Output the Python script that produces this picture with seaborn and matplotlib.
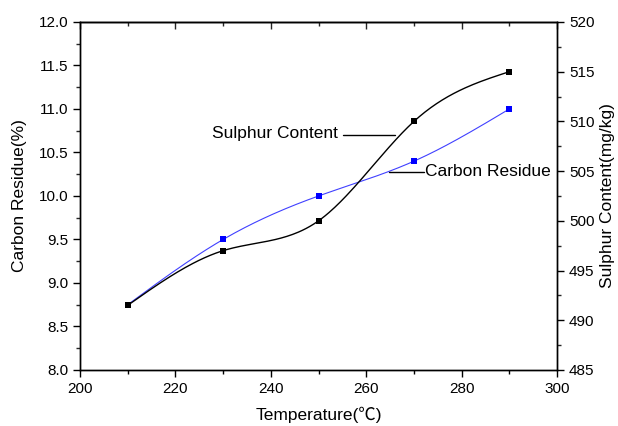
import numpy as np
import pandas as pd
import matplotlib
matplotlib.use("Agg")
import matplotlib.pyplot as plt
from matplotlib.ticker import MultipleLocator
import seaborn as sns

temperature = [210, 230, 250, 270, 290]
carbon_residue = [8.75, 9.50, 10.00, 10.40, 11.00]
sulphur_content = [491.5, 497.0, 500.0, 510.0, 515.0]

sns.set_theme(style="ticks")
plt.rcParams['font.family'] = ['Liberation Sans', 'Noto Sans CJK SC', 'DejaVu Sans']


def natural_spline(x, y, n=200):
    x = np.asarray(x, float)
    y = np.asarray(y, float)
    k = len(x)
    h = np.diff(x)
    A = np.zeros((k, k))
    b = np.zeros(k)
    A[0, 0] = 1
    A[-1, -1] = 1
    for i in range(1, k - 1):
        A[i, i - 1] = h[i - 1]
        A[i, i] = 2 * (h[i - 1] + h[i])
        A[i, i + 1] = h[i]
        b[i] = 6 * ((y[i + 1] - y[i]) / h[i] - (y[i] - y[i - 1]) / h[i - 1])
    M = np.linalg.solve(A, b)
    xs = np.linspace(x[0], x[-1], n)
    idx = np.clip(np.searchsorted(x, xs) - 1, 0, k - 2)
    x0, x1 = x[idx], x[idx + 1]
    hh = x1 - x0
    t0 = x1 - xs
    t1 = xs - x0
    ys = (M[idx] * t0 ** 3 / (6 * hh) + M[idx + 1] * t1 ** 3 / (6 * hh)
          + (y[idx] / hh - M[idx] * hh / 6) * t0
          + (y[idx + 1] / hh - M[idx + 1] * hh / 6) * t1)
    return xs, ys


fig = plt.figure(figsize=(6.18, 4.26), dpi=100)
ax = fig.add_axes([0.1294, 0.1315, 0.772, 0.8169])
ax2 = ax.twinx()

cx, cy = natural_spline(temperature, carbon_residue)
sx, sy = natural_spline(temperature, sulphur_content)

sns.lineplot(x=cx, y=cy, ax=ax, color="#4040ff", linewidth=0.8, sort=False)
sns.scatterplot(x=temperature, y=carbon_residue, ax=ax, color="#0000ff",
                marker="s", s=14, linewidth=0, zorder=5)
sns.lineplot(x=sx, y=sy, ax=ax2, color="black", linewidth=1.0, sort=False)
sns.scatterplot(x=temperature, y=sulphur_content, ax=ax2, color="black",
                marker="s", s=14, linewidth=0, zorder=5)

ax.set_xlim(200, 300)
ax.set_ylim(8.0, 12.0)
ax2.set_ylim(485, 520)

ax.xaxis.set_major_locator(MultipleLocator(20))
ax.xaxis.set_minor_locator(MultipleLocator(10))
ax.yaxis.set_major_locator(MultipleLocator(0.5))
ax.yaxis.set_minor_locator(MultipleLocator(0.25))
ax2.yaxis.set_major_locator(MultipleLocator(5))
ax2.yaxis.set_minor_locator(MultipleLocator(2.5))

ax.yaxis.set_major_formatter(matplotlib.ticker.FormatStrFormatter('%.1f'))

for a in (ax, ax2):
    for s in a.spines.values():
        s.set_color("black")
        s.set_linewidth(1.0)

ax.tick_params(axis='x', which='both', direction='out', bottom=True, top=False,
               labelsize=11, colors='black')
ax.tick_params(axis='x', which='major', length=5, width=1)
ax.tick_params(axis='x', which='minor', length=3, width=1)
ax.tick_params(axis='y', which='major', direction='out', length=5, width=1,
               labelsize=11, colors='black')
ax.tick_params(axis='y', which='minor', direction='out', length=3, width=1)
ax2.tick_params(axis='y', which='major', direction='out', length=5, width=1,
                labelsize=11, colors='black')
ax2.tick_params(axis='y', which='minor', direction='out', length=3, width=1)

# top ticks pointing inward
sec = ax.secondary_xaxis('top')
sec.xaxis.set_major_locator(MultipleLocator(20))
sec.xaxis.set_minor_locator(MultipleLocator(10))
sec.tick_params(axis='x', which='major', direction='in', length=5, width=1, labeltop=False)
sec.tick_params(axis='x', which='minor', direction='in', length=3, width=1)
sec.spines['top'].set_linewidth(1.0)

ax.set_xlabel("Temperature(\u2103)", fontsize=12.5, color='black', labelpad=8)
ax.set_ylabel("Carbon Residue(%)", fontsize=12.5, color='black', labelpad=8)
ax2.set_ylabel("Sulphur Content(mg/kg)", fontsize=12.5, color='black', labelpad=4)

ax.text(227.7, 10.72, "Sulphur Content", fontsize=12.5, color='black', va='center', ha='left')
ax.plot([255.1, 266.0], [10.70, 10.70], color='black', linewidth=1.0)
ax.text(272.3, 10.28, "Carbon Residue", fontsize=12.5, color='black', va='center', ha='left')
ax.plot([264.8, 272.2], [10.28, 10.28], color='black', linewidth=1.0)

fig.savefig("out.png", dpi=100)
